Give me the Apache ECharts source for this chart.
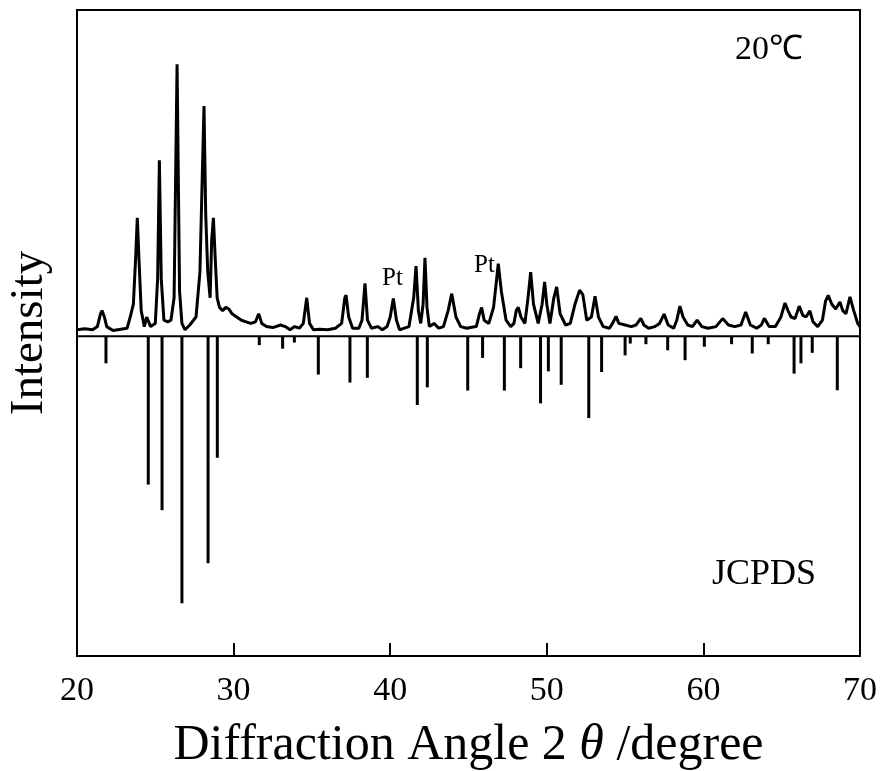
<!DOCTYPE html>
<html>
<head>
<meta charset="utf-8">
<script src="https://cdn.jsdelivr.net/npm/echarts@6/dist/echarts.min.js"></script>
<style>
html,body{margin:0;padding:0;background:#fff;}
#chart{width:883px;height:771px;}
</style>
</head>
<body>
<div id="chart"></div>
<script>
// Measured XRD pattern at 20 ℃ : [2θ (degree), intensity (a.u.)]
var measured = [
[20.0,2],[20.5,2.3],[21.0,2],[21.3,3],[21.5,7],[21.6,8],[21.75,6],[21.9,3],[22.3,1.8],[22.8,2.2],[23.2,2.5],[23.4,6],[23.6,10],[23.75,25],[23.85,37],[23.95,25],[24.1,8],[24.3,3],[24.45,6],[24.55,6.5],[24.7,3],[25.0,4],[25.15,18],[25.26,55],[25.38,18],[25.55,5],[25.8,4.5],[26.0,5],[26.2,12],[26.39,85],[26.55,14],[26.7,4],[26.9,2],[27.2,3.5],[27.6,6],[27.85,20],[28.0,50],[28.11,72],[28.22,38],[28.35,20],[28.5,12],[28.6,30],[28.71,37],[28.82,25],[28.95,12],[29.1,9],[29.3,8],[29.5,9],[29.7,8.5],[29.9,7],[30.2,6],[30.5,5],[30.8,4.5],[31.1,4],[31.4,4.5],[31.6,7],[31.8,4],[32.1,3],[32.5,2.7],[33.0,3.5],[33.3,3],[33.6,2],[33.9,3],[34.2,2.5],[34.45,4],[34.67,12],[34.85,4],[35.1,2],[35.5,2.2],[36.0,2],[36.5,2.5],[36.9,4],[37.1,12],[37.18,12.8],[37.35,6],[37.6,2.5],[38.0,2.5],[38.2,5],[38.39,16.5],[38.55,5],[38.8,2.5],[39.2,3],[39.5,2],[39.8,3],[40.0,6],[40.2,11.8],[40.4,5],[40.6,2],[40.9,2.5],[41.2,3],[41.5,12],[41.65,21.9],[41.8,8],[41.95,4],[42.1,10],[42.22,24.5],[42.35,9],[42.5,3],[42.8,4],[43.1,2.5],[43.4,3],[43.7,8],[43.93,13.3],[44.2,6],[44.5,3],[44.9,2.5],[45.2,2.8],[45.5,3],[45.7,7],[45.84,9],[46.0,5],[46.3,4],[46.6,9],[46.8,18],[46.9,22.7],[47.1,14],[47.4,5],[47.7,3],[47.9,4],[48.05,8],[48.18,9],[48.35,6],[48.6,4],[48.8,12],[48.97,20],[49.15,10],[49.45,4],[49.7,10],[49.86,17],[50.0,10],[50.2,4],[50.45,12],[50.63,15.4],[50.85,7],[51.2,3.5],[51.5,4],[51.8,10],[52.0,13],[52.1,14.4],[52.3,13],[52.55,5],[52.85,6],[53.08,12.5],[53.3,6],[53.6,3],[54.0,2.5],[54.2,4],[54.42,6.2],[54.6,4],[55.0,3.5],[55.4,3],[55.7,3.5],[56.0,5.6],[56.2,3.5],[56.5,2.5],[56.9,3],[57.2,4],[57.49,6.9],[57.75,3.5],[58.1,2.5],[58.3,5],[58.5,9.4],[58.7,6],[59.0,3.5],[59.3,3],[59.6,5],[59.9,3],[60.3,2.5],[60.8,3],[61.23,5.5],[61.6,3.5],[62.0,3],[62.4,3.5],[62.7,7.6],[63.0,3.5],[63.4,2.5],[63.7,3.5],[63.89,5.6],[64.2,3],[64.6,3],[64.95,6],[65.21,10.4],[65.4,8],[65.6,6],[65.85,5.5],[66.12,9.4],[66.35,6.5],[66.55,6],[66.8,7.9],[67.0,4.5],[67.3,3],[67.6,5],[67.8,11],[67.97,12.8],[68.2,10],[68.45,8.5],[68.72,10.7],[68.9,8],[69.1,7],[69.36,12.3],[69.6,8],[69.85,4],[70.0,3]
];

// JCPDS reference lines: positions (2θ) and relative intensities (drawn downward)
var jcpdsPos = [21.85,24.55,25.43,26.7,28.37,28.96,31.64,33.13,33.88,35.41,37.43,38.54,41.73,42.37,44.95,45.9,47.29,48.33,49.6,50.1,50.92,52.68,53.5,55.0,55.33,56.33,57.72,58.83,60.06,61.8,63.12,64.14,65.79,66.23,66.95,68.55];
var jcpdsInt = [8.5,46.4,54.4,83.5,71,38,2.8,3.9,2,12,14.5,13,21.5,16,17,6.8,17,10,21,11,15.2,25.6,11.2,6,2.3,2.5,4.4,7.5,3.3,2.5,5.4,2.5,11.7,8.5,5.2,16.9];

// Axis ticks
var xTicks = [20,30,40,50,60,70];

var chart = echarts.init(document.getElementById('chart'));
var serif = 'Liberation Serif, Times New Roman, serif';

var sticks = jcpdsPos.map(function(p,i){ return [p, -jcpdsInt[i]]; });

chart.setOption({
  animation:false,
  backgroundColor:'#fff',
  grid:{left:77,right:23,top:10,bottom:115,containLabel:false,outerBoundsMode:'none',
        show:true,borderColor:'#000',borderWidth:2,backgroundColor:'transparent'},
  xAxis:{
    type:'value',min:xTicks[0],max:xTicks[xTicks.length-1],interval:10,
    axisLine:{show:true,onZero:false,lineStyle:{color:'#000',width:2}},
    axisTick:{show:true,inside:true,length:13,lineStyle:{color:'#000',width:2}},
    splitLine:{show:false},
    axisLabel:{color:'#000',fontFamily:serif,fontSize:34,margin:18},
    name:'Diffraction Angle 2 {i|θ} /degree',
    nameLocation:'middle',nameGap:65,
    nameTextStyle:{color:'#000',fontFamily:serif,fontSize:50,
      rich:{i:{fontStyle:'italic',fontFamily:serif,fontSize:50,color:'#000'}}}
  },
  yAxis:{
    type:'value',min:-100,max:102,
    axisLine:{show:true,onZero:false,lineStyle:{color:'#000',width:2}},
    axisTick:{show:false},axisLabel:{show:false},splitLine:{show:false},
    name:'Intensity',nameLocation:'middle',nameGap:24,nameRotate:90,
    nameTextStyle:{color:'#000',fontFamily:serif,fontSize:47}
  },
  graphic:[
    {type:'text',left:735,top:33,style:{text:'20℃',font:'34px Liberation Serif, serif',fill:'#000'}},
    {type:'text',left:712,top:557,style:{text:'JCPDS',font:'36px Liberation Serif, serif',fill:'#000'}},
    {type:'text',left:382,top:266,style:{text:'Pt',font:'25px Liberation Serif, serif',fill:'#000'}},
    {type:'text',left:474,top:253,style:{text:'Pt',font:'25px Liberation Serif, serif',fill:'#000'}}
  ],
  series:[
    {type:'line',name:'zero',data:[[xTicks[0],0],[xTicks[xTicks.length-1],0]],symbol:'none',
     lineStyle:{color:'#000',width:2},silent:true,z:1},
    {type:'bar',name:'JCPDS',data:sticks,barWidth:3,itemStyle:{color:'#000'},z:2},
    {type:'line',name:'20℃',data:measured,symbol:'none',smooth:false,
     lineStyle:{color:'#000',width:3},z:3}
  ]
});
</script>
</body>
</html>
